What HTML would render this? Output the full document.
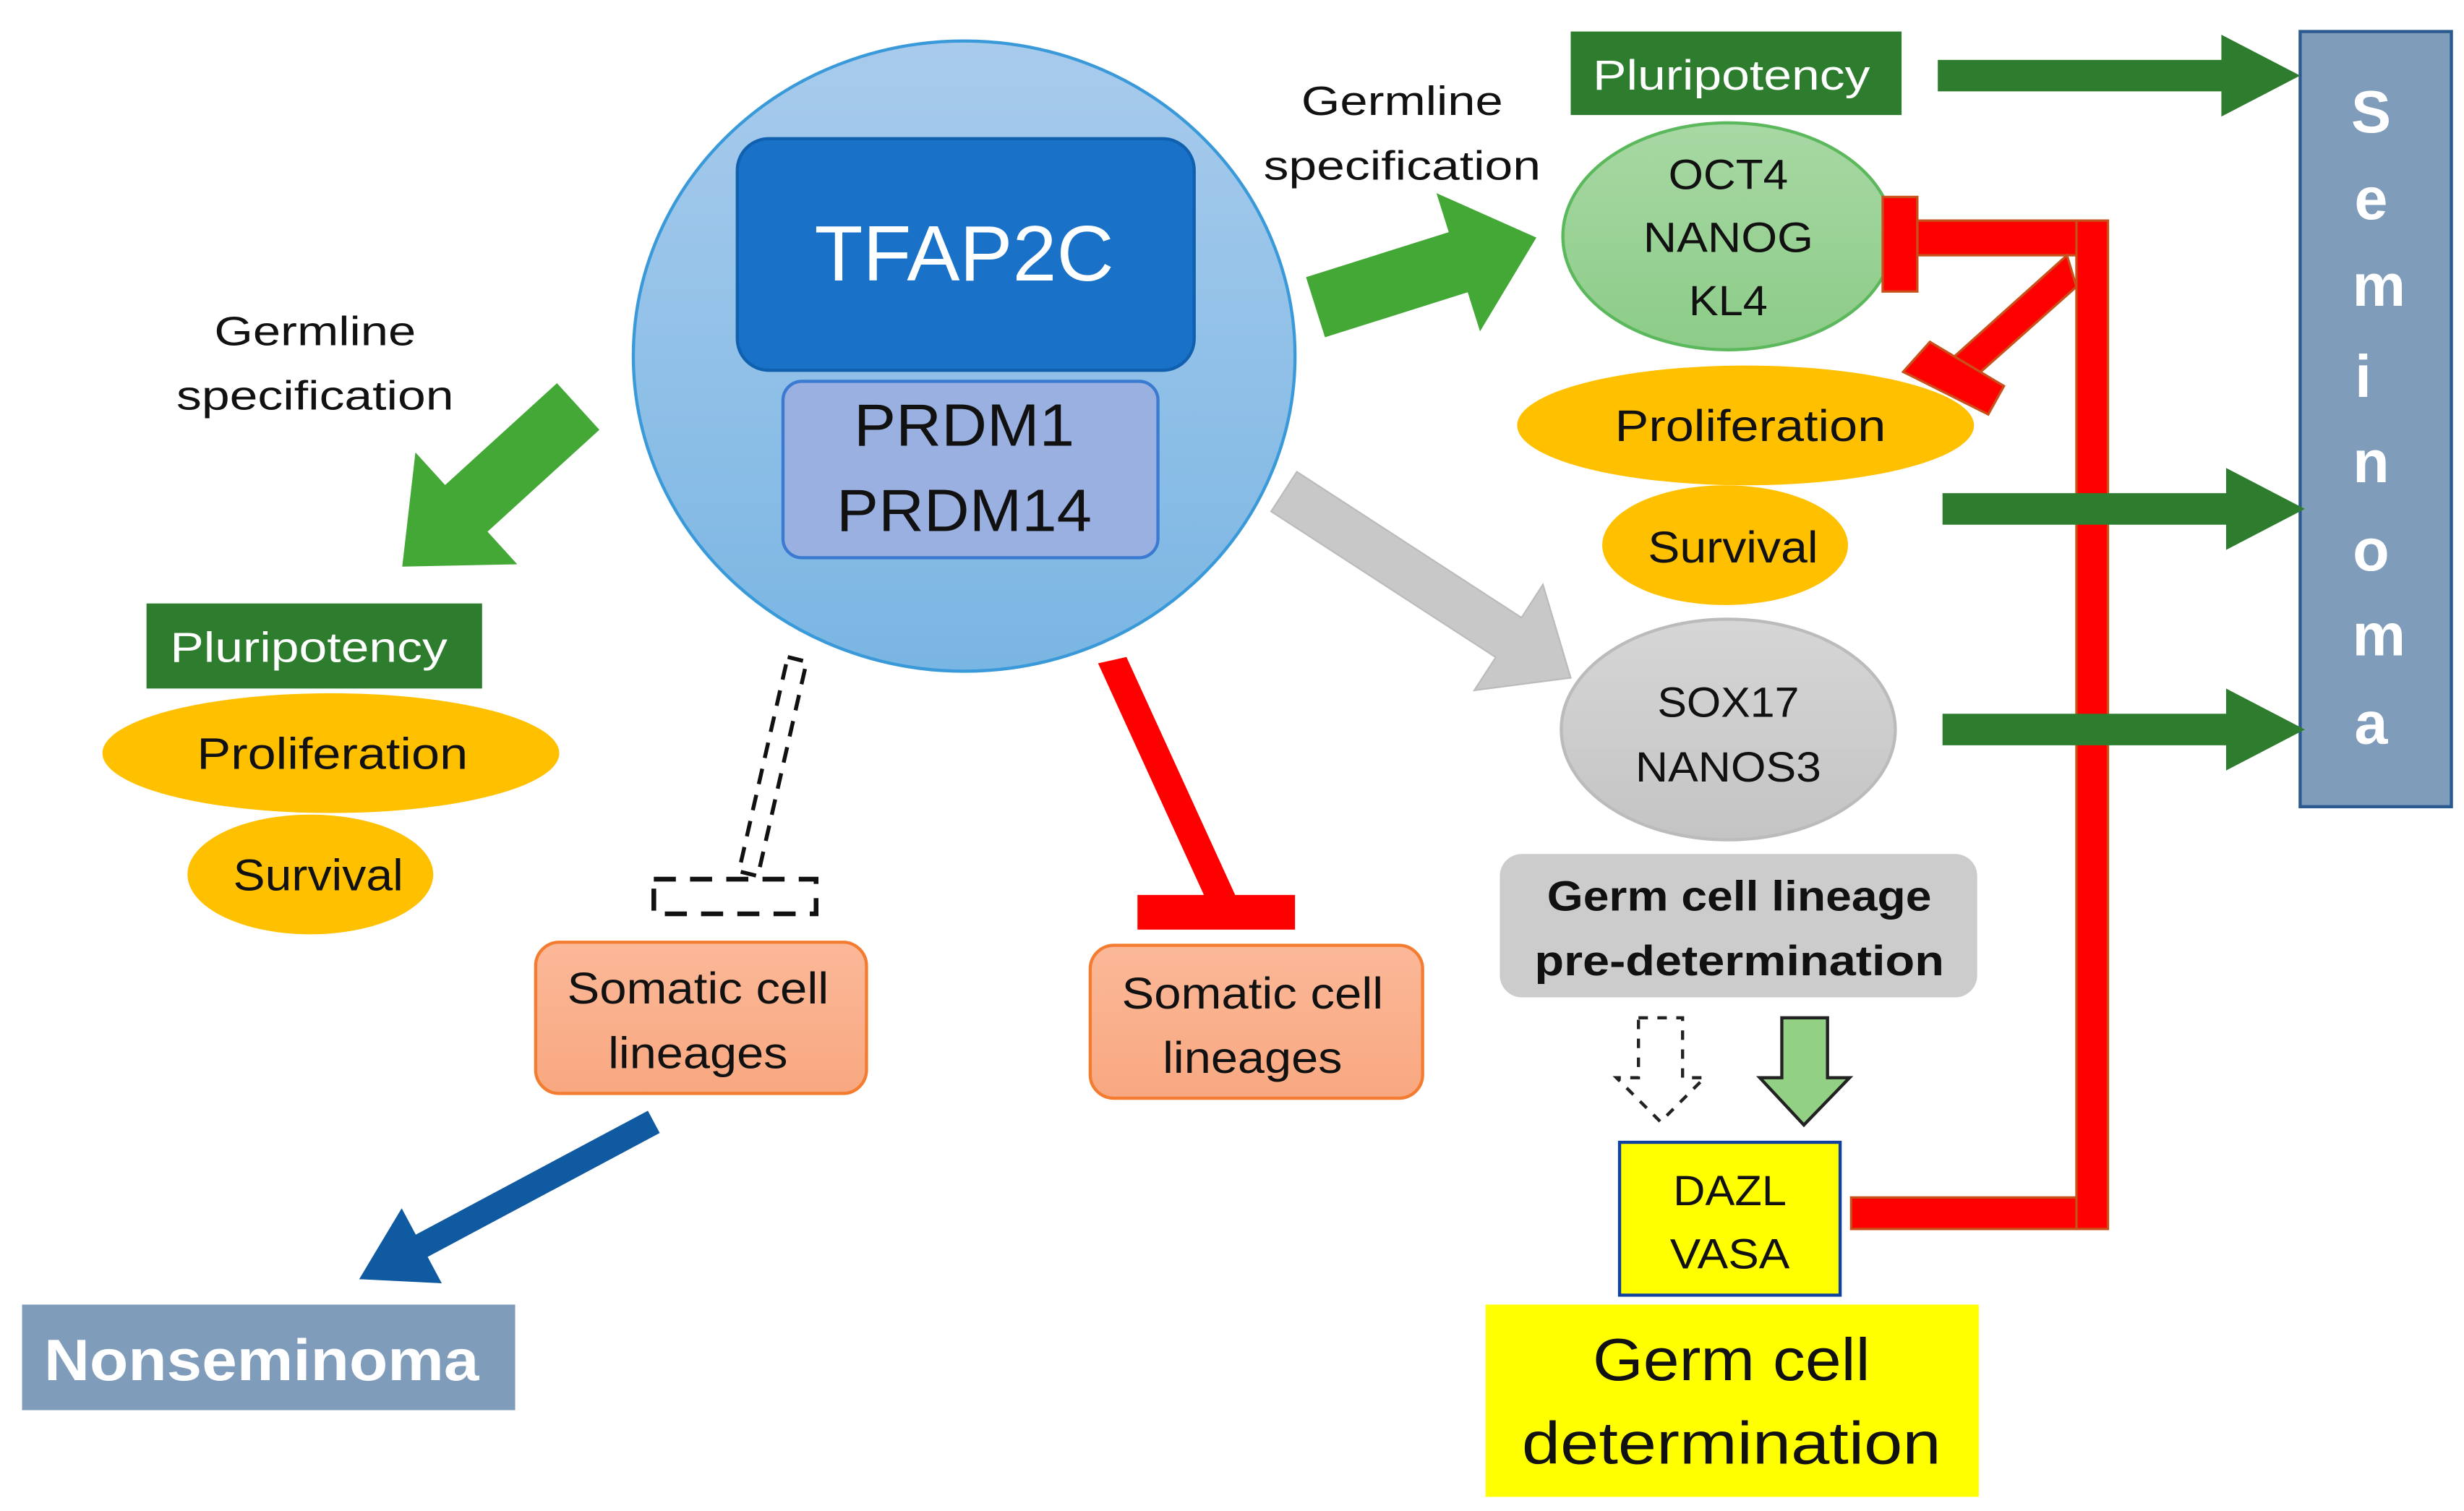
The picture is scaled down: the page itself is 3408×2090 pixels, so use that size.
<!DOCTYPE html>
<html><head><meta charset="utf-8"><style>html,body{margin:0;padding:0;background:#fff}svg{display:block}</style></head>
<body>
<svg width="3408" height="2090" viewBox="0 0 1564 959" preserveAspectRatio="none" xmlns="http://www.w3.org/2000/svg" font-family="Liberation Sans, sans-serif">
<defs>
<linearGradient id="gb" x1="0" y1="0" x2="0" y2="1"><stop offset="0" stop-color="#a8cbec"/><stop offset="1" stop-color="#7ab6e3"/></linearGradient>
<linearGradient id="gg" x1="0" y1="0" x2="0" y2="1"><stop offset="0" stop-color="#a8d8a4"/><stop offset="1" stop-color="#8ccc88"/></linearGradient>
<linearGradient id="gy" x1="0" y1="0" x2="0" y2="1"><stop offset="0" stop-color="#d6d6d6"/><stop offset="1" stop-color="#c4c4c4"/></linearGradient>
<linearGradient id="gs" x1="0" y1="0" x2="0" y2="1"><stop offset="0" stop-color="#fbb898"/><stop offset="1" stop-color="#f8a880"/></linearGradient>
</defs>

<!-- central circle -->
<ellipse cx="612" cy="226" rx="210" ry="200" fill="url(#gb)" stroke="#3a9ad9" stroke-width="2"/>
<rect x="468" y="88" width="290" height="147" rx="20" fill="#1a72c8" stroke="#1060b0" stroke-width="2"/>
<text x="612" y="178" font-size="50" fill="#fff" text-anchor="middle" textLength="190" lengthAdjust="spacingAndGlyphs">TFAP2C</text>
<rect x="497" y="242" width="238" height="112" rx="12" fill="#9ab0e0" stroke="#3a7ad0" stroke-width="2"/>
<text x="612" y="283" font-size="38" fill="#111" text-anchor="middle" textLength="140" lengthAdjust="spacingAndGlyphs">PRDM1</text>
<text x="612" y="337" font-size="38" fill="#111" text-anchor="middle" textLength="162" lengthAdjust="spacingAndGlyphs">PRDM14</text>

<!-- left germline spec -->
<text x="200" y="219" font-size="26" fill="#111" text-anchor="middle" textLength="128" lengthAdjust="spacingAndGlyphs">Germline</text>
<text x="200" y="260" font-size="26" fill="#111" text-anchor="middle" textLength="176" lengthAdjust="spacingAndGlyphs">specification</text>
<g transform="translate(367,258) rotate(137.7)"><polygon points="0,-20 96,-20 96,-48 151,0 96,48 96,20 0,20" fill="#43a836"/></g>

<rect x="93" y="383" width="213" height="54" fill="#2e7d2e"/>
<text x="196" y="420" font-size="27" fill="#fff" text-anchor="middle" textLength="176" lengthAdjust="spacingAndGlyphs">Pluripotency</text>
<ellipse cx="210" cy="478" rx="145" ry="38" fill="#ffc000"/>
<text x="211" y="488" font-size="28" fill="#111" text-anchor="middle" textLength="172" lengthAdjust="spacingAndGlyphs">Proliferation</text>
<ellipse cx="197" cy="555" rx="78" ry="38" fill="#ffc000"/>
<text x="202" y="565" font-size="28" fill="#111" text-anchor="middle" textLength="108" lengthAdjust="spacingAndGlyphs">Survival</text>

<!-- dashed T -->
<polygon points="500,417 512,420 481,556 469,553" fill="none" stroke="#111" stroke-width="2.5" stroke-dasharray="10,7"/>
<rect x="415" y="558" width="103" height="22" fill="none" stroke="#111" stroke-width="3" stroke-dasharray="14,9"/>

<rect x="340" y="598" width="210" height="96" rx="15" fill="url(#gs)" stroke="#f47c30" stroke-width="2"/>
<text x="443" y="637" font-size="28" fill="#111" text-anchor="middle" textLength="166" lengthAdjust="spacingAndGlyphs">Somatic cell</text>
<text x="443" y="678" font-size="28" fill="#111" text-anchor="middle" textLength="114" lengthAdjust="spacingAndGlyphs">lineages</text>

<g transform="translate(415,712) rotate(151.9)"><polygon points="0,-8 167,-8 167,-27 212,0 167,27 167,8 0,8" fill="#0f5aa0"/></g>
<rect x="14" y="828" width="313" height="67" fill="#7f9cbb"/>
<text x="166" y="876" font-size="37" font-weight="bold" fill="#fff" text-anchor="middle" textLength="276" lengthAdjust="spacingAndGlyphs">Nonseminoma</text>

<!-- red T -->
<polygon points="697,421 715,417 784,568 766,572" fill="#ff0000"/>
<rect x="722" y="568" width="100" height="22" fill="#ff0000"/>
<rect x="692" y="600" width="211" height="97" rx="15" fill="url(#gs)" stroke="#f47c30" stroke-width="2"/>
<text x="795" y="640" font-size="28" fill="#111" text-anchor="middle" textLength="166" lengthAdjust="spacingAndGlyphs">Somatic cell</text>
<text x="795" y="681" font-size="28" fill="#111" text-anchor="middle" textLength="114" lengthAdjust="spacingAndGlyphs">lineages</text>

<!-- gray arrow -->
<g transform="translate(815,312) rotate(33)"><polygon points="0,-15 170,-15 170,-40 217,0 170,40 170,15 0,15" fill="#c8c8c8" stroke="#bbb" stroke-width="1"/></g>
<!-- top-right green arrow -->
<g transform="translate(835,195) rotate(-17.5)"><polygon points="0,-20 95,-20 95,-46 147,0 95,46 95,20 0,20" fill="#43a836"/></g>
<text x="890" y="73" font-size="26" fill="#111" text-anchor="middle" textLength="128" lengthAdjust="spacingAndGlyphs">Germline</text>
<text x="890" y="114" font-size="26" fill="#111" text-anchor="middle" textLength="176" lengthAdjust="spacingAndGlyphs">specification</text>

<rect x="997" y="20" width="210" height="53" fill="#2e7d2e"/>
<text x="1099" y="57" font-size="27" fill="#fff" text-anchor="middle" textLength="176" lengthAdjust="spacingAndGlyphs">Pluripotency</text>
<ellipse cx="1097" cy="150" rx="105" ry="72" fill="url(#gg)" stroke="#5cb85c" stroke-width="2"/>
<text x="1097" y="120" font-size="27" fill="#111" text-anchor="middle" textLength="76" lengthAdjust="spacingAndGlyphs">OCT4</text>
<text x="1097" y="160" font-size="27" fill="#111" text-anchor="middle" textLength="108" lengthAdjust="spacingAndGlyphs">NANOG</text>
<text x="1097" y="200" font-size="27" fill="#111" text-anchor="middle" textLength="50" lengthAdjust="spacingAndGlyphs">KL4</text>
<ellipse cx="1108" cy="270" rx="145" ry="38" fill="#ffc000"/>
<text x="1111" y="280" font-size="28" fill="#111" text-anchor="middle" textLength="172" lengthAdjust="spacingAndGlyphs">Proliferation</text>
<ellipse cx="1095" cy="346" rx="78" ry="38" fill="#ffc000"/>
<text x="1100" y="357" font-size="28" fill="#111" text-anchor="middle" textLength="108" lengthAdjust="spacingAndGlyphs">Survival</text>
<ellipse cx="1097" cy="463" rx="106" ry="70" fill="url(#gy)" stroke="#bbb" stroke-width="2"/>
<text x="1097" y="455" font-size="27" fill="#111" text-anchor="middle" textLength="90" lengthAdjust="spacingAndGlyphs">SOX17</text>
<text x="1097" y="496" font-size="27" fill="#111" text-anchor="middle" textLength="118" lengthAdjust="spacingAndGlyphs">NANOS3</text>

<rect x="952" y="542" width="303" height="91" rx="14" fill="#cccccc"/>
<text x="1104" y="578" font-size="27" font-weight="bold" fill="#111" text-anchor="middle" textLength="244" lengthAdjust="spacingAndGlyphs">Germ cell lineage</text>
<text x="1104" y="619" font-size="27" font-weight="bold" fill="#111" text-anchor="middle" textLength="260" lengthAdjust="spacingAndGlyphs">pre-determination</text>

<polygon points="1040,646 1068,646 1068,684 1082,684 1054,712 1026,684 1040,684" fill="#fff" stroke="#222" stroke-width="2" stroke-dasharray="6,6"/>
<polygon points="1131,646 1160,646 1160,684 1174,684 1145,714 1117,684 1131,684" fill="#92d084" stroke="#222" stroke-width="2"/>

<rect x="1028" y="725" width="140" height="97" fill="#ffff00" stroke="#1040a0" stroke-width="2"/>
<text x="1098" y="765" font-size="27" fill="#111" text-anchor="middle" textLength="72" lengthAdjust="spacingAndGlyphs">DAZL</text>
<text x="1098" y="805" font-size="27" fill="#111" text-anchor="middle" textLength="76" lengthAdjust="spacingAndGlyphs">VASA</text>
<rect x="943" y="828" width="313" height="122" fill="#ffff00"/>
<text x="1099" y="876" font-size="38" fill="#111" text-anchor="middle" textLength="176" lengthAdjust="spacingAndGlyphs">Germ cell</text>
<text x="1099" y="929" font-size="38" fill="#111" text-anchor="middle" textLength="266" lengthAdjust="spacingAndGlyphs">determination</text>

<!-- red inhibition network -->
<g fill="#ff0000" stroke="#c8501a" stroke-width="1.5">
<rect x="1318" y="140" width="20" height="640"/>
<rect x="1215" y="140" width="103" height="22"/>
<rect x="1195" y="125" width="22" height="60"/>
<polygon points="1312,162 1318,182 1246,246 1233,233"/>
<polygon points="1225,217 1272,245 1262,263 1208,236"/>
<rect x="1175" y="760" width="143" height="20"/>
</g>

<!-- seminoma -->
<rect x="1460" y="20" width="96" height="492" fill="#7f9cbb" stroke="#2a5a90" stroke-width="2"/>
<g font-size="38" font-weight="bold" fill="#fff" text-anchor="middle">
<text x="1505" y="84">S</text><text x="1505" y="139">e</text><text x="1510" y="194">m</text><text x="1500" y="252">i</text>
<text x="1505" y="306">n</text><text x="1505" y="362">o</text><text x="1510" y="416">m</text><text x="1505" y="472">a</text>
</g>
<g fill="#2e7d2e">
<polygon points="1230,38 1410,38 1410,22 1460,48 1410,74 1410,58 1230,58"/>
<polygon points="1233,313 1413,313 1413,297 1463,323 1413,349 1413,333 1233,333"/>
<polygon points="1233,453 1413,453 1413,437 1463,463 1413,489 1413,473 1233,473"/>
</g>
</svg>
</body></html>
